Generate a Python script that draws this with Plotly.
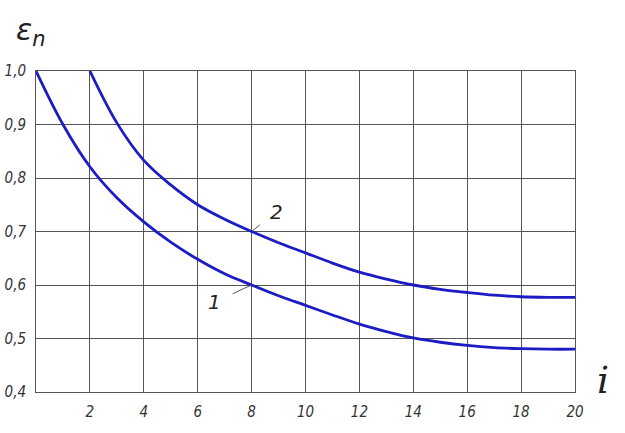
import plotly.graph_objects as go

x1 = [0, 1, 2, 3, 4, 5, 6, 7, 8, 9, 10, 11, 12, 13, 14, 15, 16, 17, 18, 19, 20]
y1 = [1.0, 0.900, 0.821, 0.763, 0.718, 0.680, 0.648, 0.621, 0.600, 0.580, 0.562, 0.544, 0.527, 0.513, 0.501, 0.493, 0.487, 0.483, 0.481, 0.480, 0.480]
x2 = [2, 3, 4, 5, 6, 7, 8, 9, 10, 11, 12, 13, 14, 15, 16, 17, 18, 19, 20]
y2 = [1.0, 0.903, 0.833, 0.787, 0.750, 0.723, 0.700, 0.679, 0.660, 0.641, 0.624, 0.611, 0.600, 0.592, 0.586, 0.581, 0.578, 0.577, 0.577]
x_ticks = [2, 4, 6, 8, 10, 12, 14, 16, 18, 20]
y_ticks = [0.4, 0.5, 0.6, 0.7, 0.8, 0.9, 1.0]

blue = "#1c1cc4"
fig = go.Figure()
fig.add_trace(go.Scatter(x=x1, y=y1, mode="lines", line=dict(color=blue, width=2.8, shape="spline", smoothing=1.0), showlegend=False))
fig.add_trace(go.Scatter(x=x2, y=y2, mode="lines", line=dict(color=blue, width=2.8, shape="spline", smoothing=1.0), showlegend=False))

font_t = dict(family="DejaVu Sans Condensed, DejaVu Sans", size=15, color="#333333")
fig.update_layout(
    width=625, height=433,
    margin=dict(l=36, r=50, t=71, b=41),
    plot_bgcolor="white", paper_bgcolor="white",
    xaxis=dict(range=[0, 20], tickvals=x_ticks, ticktext=[f"<i>{v}</i>" for v in x_ticks], automargin=False,
               showgrid=True, gridcolor="#555555", gridwidth=1, zeroline=False,
               showline=True, linecolor="#555555", mirror=True, ticks="", tickfont=font_t, ticklabelstandoff=6),
    yaxis=dict(range=[0.4, 1.0], tickvals=y_ticks, ticktext=[f"<i>{v:.1f}</i>".replace(".", ",") for v in y_ticks], automargin=False,
               showgrid=True, gridcolor="#555555", gridwidth=1, zeroline=False,
               showline=True, linecolor="#555555", mirror=True, ticks="", tickfont=font_t, ticklabelstandoff=6),
    annotations=[
        dict(xref="paper", yref="paper", x=-0.01, y=1.0, yshift=40, xanchor="center", yanchor="middle",
             text="<i>ε<sub>n</sub></i>", showarrow=False, font=dict(family="DejaVu Sans", size=30, color="#222222")),
        dict(xref="paper", yref="paper", x=1.0, y=0.0, xshift=28, yshift=12, xanchor="center", yanchor="middle",
             text="<i>i</i>", showarrow=False, font=dict(family="DejaVu Serif", size=38, color="#222222")),
        dict(x=8, y=0.70, ax=25, ay=-20, text="<i>2</i>", showarrow=True,
             arrowhead=0, arrowwidth=1, arrowcolor="#555555", standoff=1, startstandoff=11,
             font=dict(family="DejaVu Sans", size=20, color="#222222")),
        dict(x=8, y=0.60, ax=-37, ay=17, text="<i>1</i>", showarrow=True,
             arrowhead=0, arrowwidth=1, arrowcolor="#555555", standoff=1, startstandoff=11,
             font=dict(family="DejaVu Sans", size=20, color="#222222")),
    ],
)
fig.write_html("out.html", config={"displayModeBar": False}, post_script="document.body.style.margin='0';")
